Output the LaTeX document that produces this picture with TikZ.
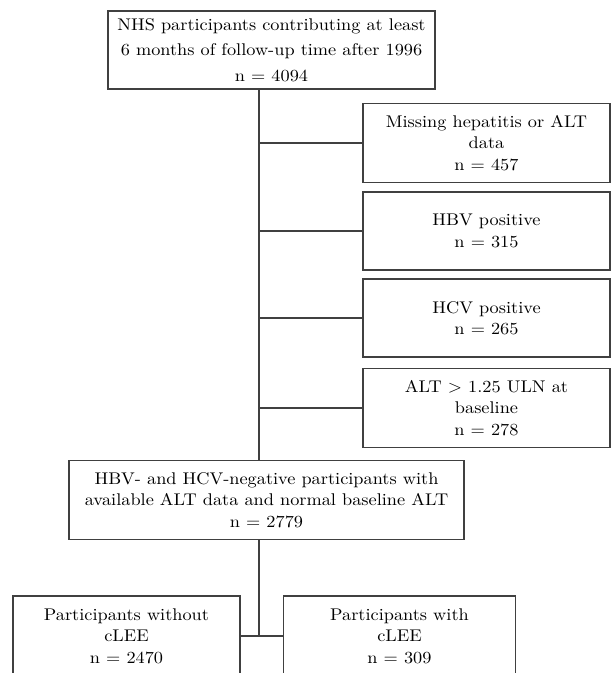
\documentclass[tikz,border=0pt]{standalone}
\usepackage{fontspec}
\setmainfont{lmroman10-regular.otf}[FakeStretch=1.08]
\usepackage{tikz}
\usetikzlibrary{positioning}
\tikzstyle{flowbox} = [draw=black!75, line width=1.6bp, align=center, inner sep=0pt, font=\fontsize{17}{21.5}\selectfont]
\tikzstyle{link} = [draw=black!75, line width=1.6bp]

\begin{document}
\begin{tikzpicture}[x=1bp, y=-1bp]
\useasboundingbox (0,0) rectangle (612,673);
% Cohort
\node[flowbox, minimum width=327bp, minimum height=78bp] (cohort) at (271.5,50) {NHS participants contributing at least\\[4bp]6 months of follow-up time after 1996\\[4bp]n = 4094};
\coordinate (trunk) at (259,0);

% Exclusions
\node[flowbox, minimum width=247bp, minimum height=79bp] (missing) at (486.5,143) {Missing hepatitis or ALT\\data\\n = 457};
\node[flowbox, minimum width=247bp, minimum height=78bp] (hbv) at (486.5,231) {HBV positive\\n = 315};
\node[flowbox, minimum width=247bp, minimum height=78bp] (hcv) at (486.5,318) {HCV positive\\n = 265};
\node[flowbox, minimum width=247bp, minimum height=79bp] (altup) at (486.5,408) {ALT \textgreater{} 1.25 ULN at\\baseline\\n = 278};

% Analytic cohort
\node[flowbox, minimum width=395bp, minimum height=79bp] (pool) at (266.5,500) {HBV- and HCV-negative participants with\\available ALT data and normal baseline ALT\\n = 2779};

% Outcome groups
\node[flowbox, minimum width=227bp, minimum height=80bp] (without) at (126.5,636) {Participants without\\cLEE\\n = 2470};
\node[flowbox, minimum width=232bp, minimum height=80bp] (with) at (399.5,636) {Participants with\\cLEE\\n = 309};

% Connectors
\draw[link] (cohort.south -| trunk) -- (pool.north -| trunk);
\foreach \b in {missing, hbv, hcv, altup}
  \draw[link] (\b.west -| trunk) -- (\b.west);
\coordinate (split) at (trunk |- without.east);
\draw[link] (pool.south -| trunk) -- (split);
\draw[link] (without.east) -- (with.west);
\end{tikzpicture}
\end{document}
